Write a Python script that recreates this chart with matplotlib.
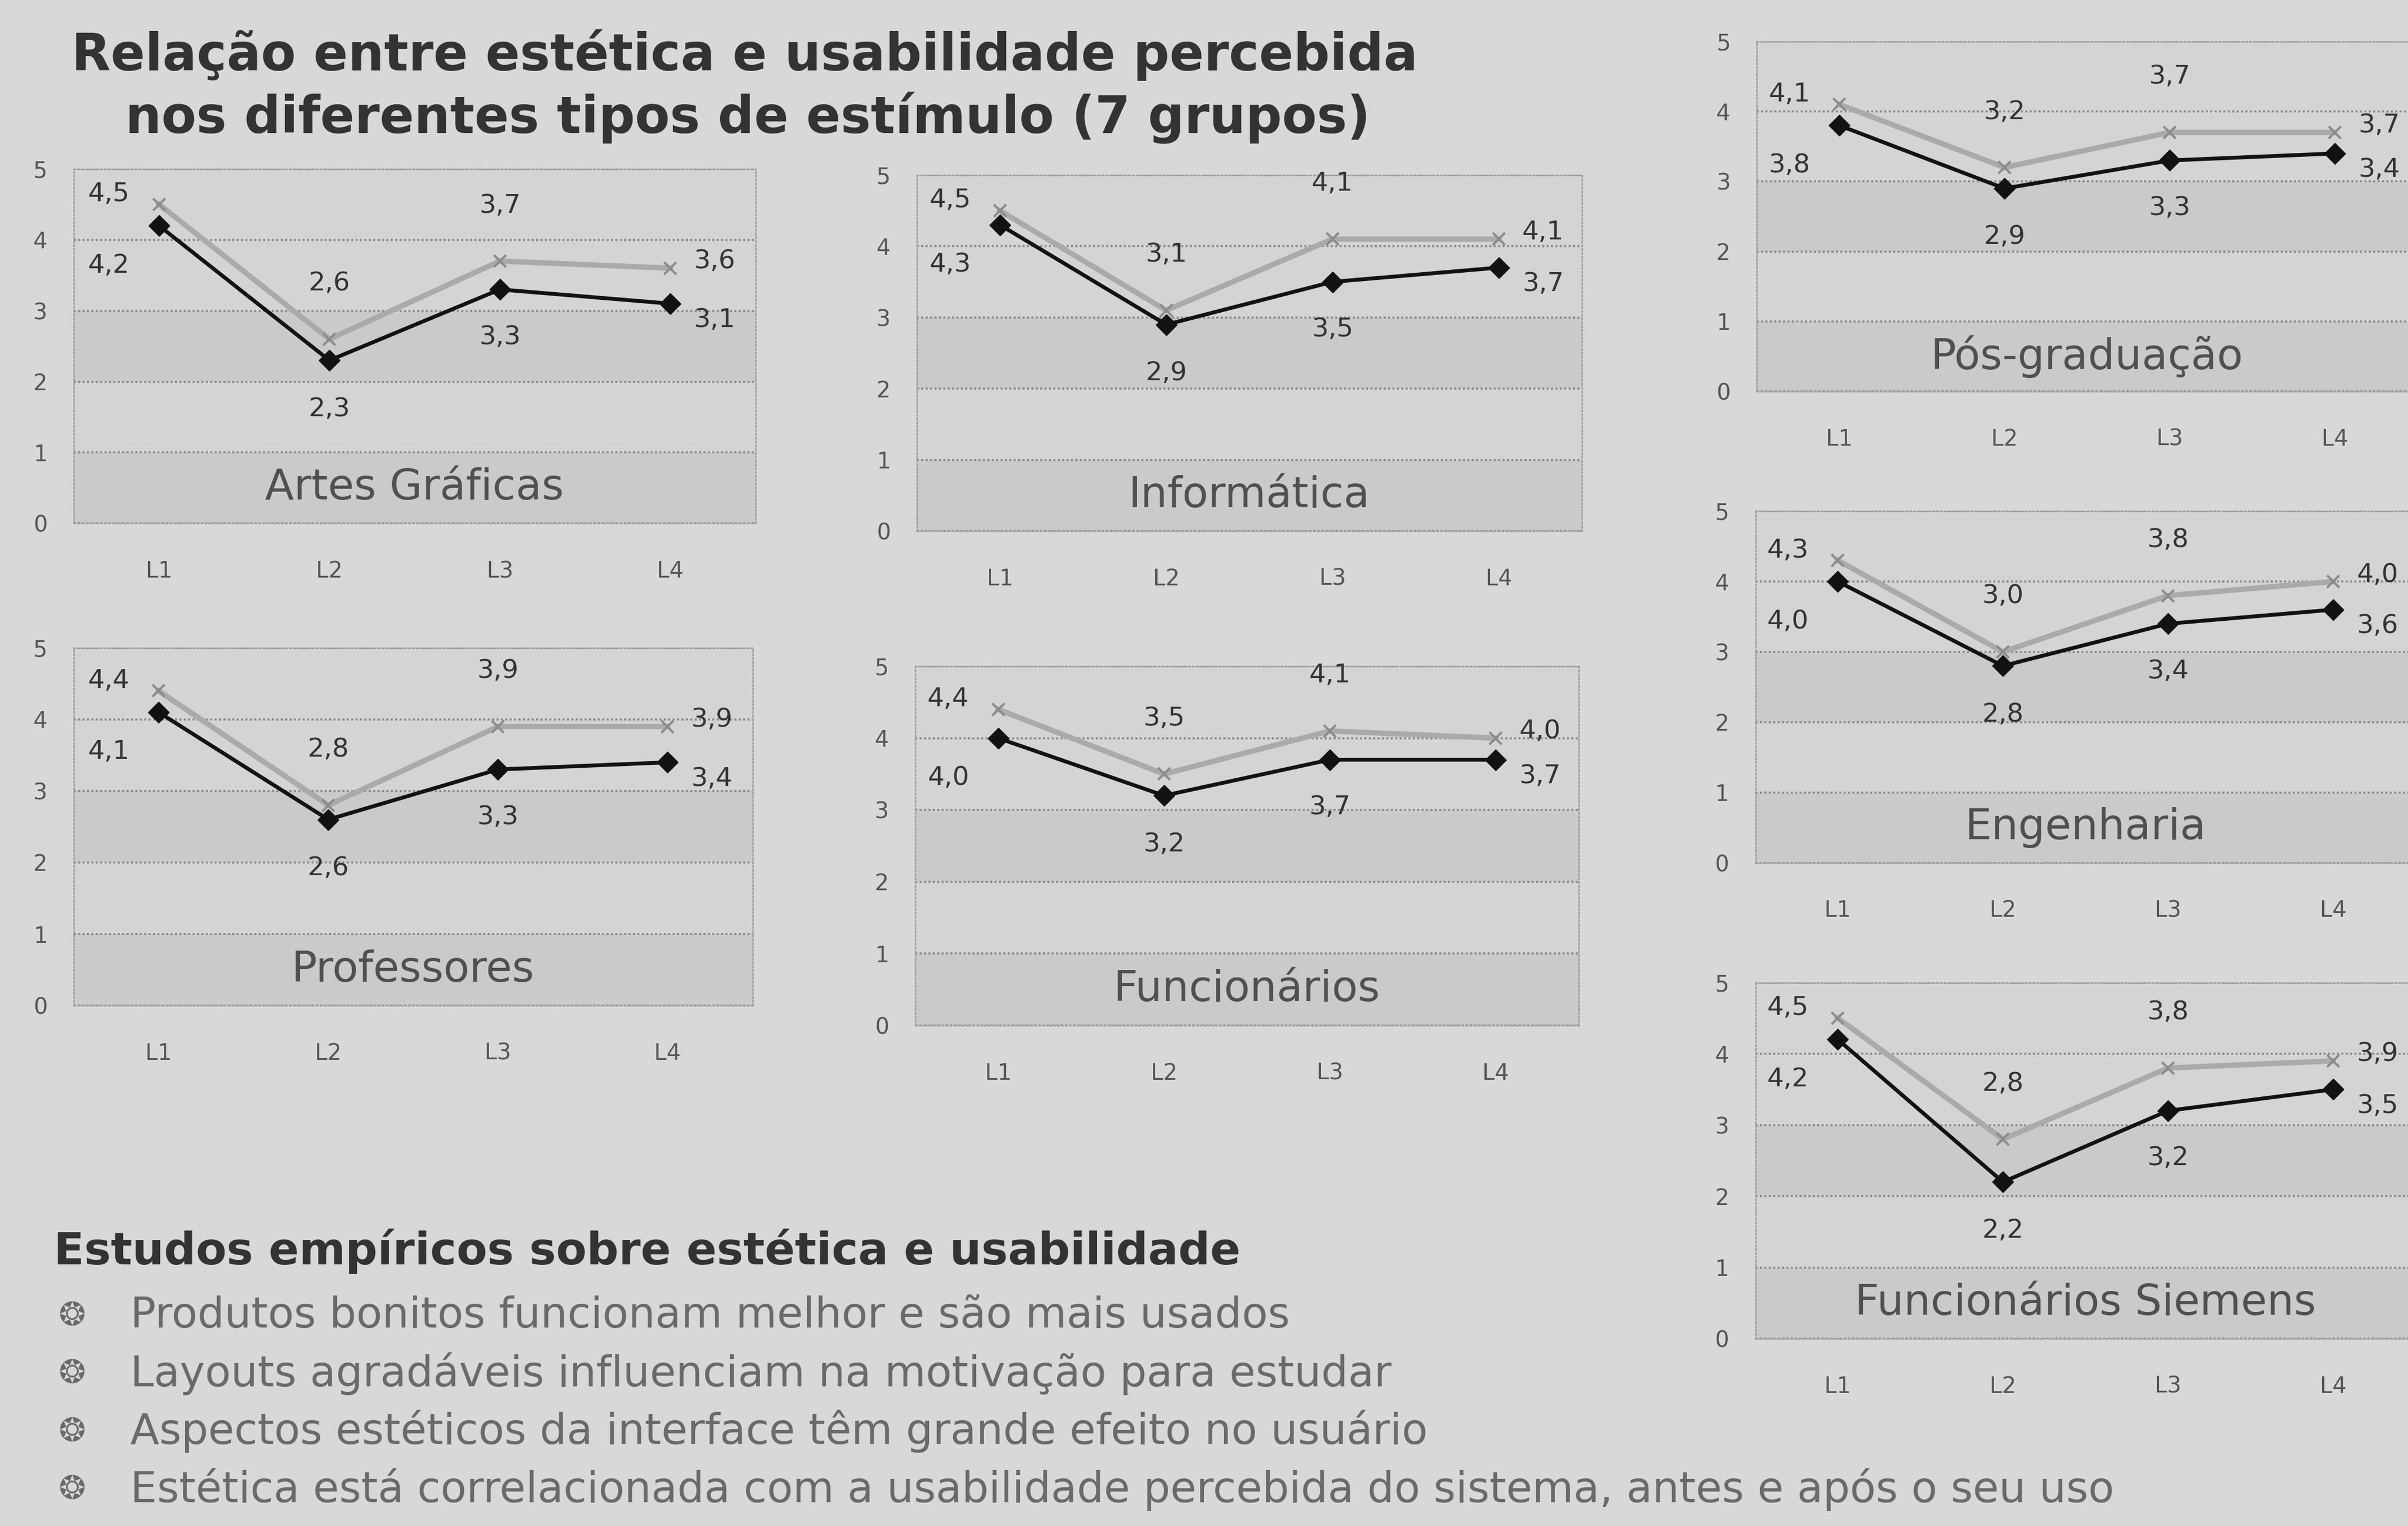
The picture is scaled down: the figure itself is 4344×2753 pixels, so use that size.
import matplotlib
matplotlib.use("Agg")
import matplotlib.pyplot as plt

# ---- data -------------------------------------------------------------
categorias = ["L1", "L2", "L3", "L4"]
grupos = ["Artes Gráficas", "Informática", "Pós-graduação", "Professores",
          "Funcionários", "Engenharia", "Funcionários Siemens"]

# estética percebida (linha cinza) por grupo
estetica_artes = [4.5, 2.6, 3.7, 3.6]
estetica_informatica = [4.5, 3.1, 4.1, 4.1]
estetica_posgrad = [4.1, 3.2, 3.7, 3.7]
estetica_professores = [4.4, 2.8, 3.9, 3.9]
estetica_funcionarios = [4.4, 3.5, 4.1, 4.0]
estetica_engenharia = [4.3, 3.0, 3.8, 4.0]
estetica_siemens = [4.5, 2.8, 3.8, 3.9]

# usabilidade percebida (linha preta) por grupo
usabilidade_artes = [4.2, 2.3, 3.3, 3.1]
usabilidade_informatica = [4.3, 2.9, 3.5, 3.7]
usabilidade_posgrad = [3.8, 2.9, 3.3, 3.4]
usabilidade_professores = [4.1, 2.6, 3.3, 3.4]
usabilidade_funcionarios = [4.0, 3.2, 3.7, 3.7]
usabilidade_engenharia = [4.0, 2.8, 3.4, 3.6]
usabilidade_siemens = [4.2, 2.2, 3.2, 3.5]

yticks = [0, 1, 2, 3, 4, 5]

titulo = ["Relação entre estética e usabilidade percebida",
          "nos diferentes tipos de estímulo (7 grupos)"]
subtitulo = "Estudos empíricos sobre estética e usabilidade"
topicos = [
    "Produtos bonitos funcionam melhor e são mais usados",
    "Layouts agradáveis influenciam na motivação para estudar",
    "Aspectos estéticos da interface têm grande efeito no usuário",
    "Estética está correlacionada com a usabilidade percebida do sistema, antes e após o seu uso",
]

# ---- layout -----------------------------------------------------------
W, H = 1568.0, 994.0          # layout grid units
BG = "#d8d8d8"

fig = plt.figure(figsize=(43.44, 27.53), dpi=100, facecolor=BG)


def box(x0, x1, ytop, ybot):
    return [x0 / W, 1 - ybot / H, (x1 - x0) / W, (ybot - ytop) / H]


paineis = [
    (grupos[0], estetica_artes, usabilidade_artes, box(48, 492, 110, 341)),
    (grupos[1], estetica_informatica, usabilidade_informatica, box(597, 1030, 114, 346)),
    (grupos[2], estetica_posgrad, usabilidade_posgrad, box(1144, 1574, 27, 255)),
    (grupos[3], estetica_professores, usabilidade_professores, box(48, 490, 422, 655)),
    (grupos[4], estetica_funcionarios, usabilidade_funcionarios, box(596, 1028, 434, 668)),
    (grupos[5], estetica_engenharia, usabilidade_engenharia, box(1143, 1573, 333, 562)),
    (grupos[6], estetica_siemens, usabilidade_siemens, box(1143, 1573, 640, 872)),
]


def fmt(v):
    return f"{v:.1f}".replace(".", ",")


# label offsets in pixels: (dx, dy) per category, for the gray and black series
off_gray = [(-90, 18), (0, 100), (0, 100), (80, 12)]
off_black = [(-90, -72), (0, -88), (0, -86), (80, -30)]

x = list(range(len(categorias)))

for nome, est, usa, pos in paineis:
    ax = fig.add_axes(pos)
    ax.set_xlim(-0.5, 3.5)
    ax.set_ylim(0, 5)
    ax.set_facecolor("#d4d4d4")
    for lo in (0, 2):
        ax.axhspan(lo, lo + 1, color="#cacaca", zorder=0, lw=0)
    for s in ax.spines.values():
        s.set_color("#a0a0a0")
        s.set_linestyle((0, (1, 1.5)))
        s.set_linewidth(2)
    ax.set_yticks(yticks)
    ax.set_yticklabels([str(t) for t in yticks])
    ax.grid(axis="y", color="#888888", linestyle=(0, (1, 1.2)), linewidth=2.6)
    ax.set_axisbelow(True)
    ax.set_xticks(x)
    ax.set_xticklabels(categorias)
    ax.tick_params(axis="both", length=0, labelsize=29, colors="#555555")
    ax.tick_params(axis="y", pad=34)
    ax.tick_params(axis="x", pad=48)

    ax.plot(x, est, color="#aaaaaa", lw=7, marker="x", markersize=16,
            markeredgewidth=3, markeredgecolor="#8c8c8c", zorder=3,
            solid_joinstyle="miter")
    ax.plot(x, usa, color="#121212", lw=5, marker="D", markersize=19,
            markeredgecolor="#121212", zorder=4)

    for i, (g, b) in enumerate(zip(est, usa)):
        ax.annotate(fmt(g), (x[i], g), xytext=off_gray[i], textcoords="offset pixels",
                    ha="center", va="center", fontsize=34, color="#333333",
                    annotation_clip=False)
        ax.annotate(fmt(b), (x[i], b), xytext=off_black[i], textcoords="offset pixels",
                    ha="center", va="center", fontsize=34, color="#333333",
                    annotation_clip=False)

    ax.text(1.5, 0.5, nome, ha="center", va="center", fontsize=55, color="#505050",
            zorder=5)

# ---- texts ------------------------------------------------------------
fig.text(485 / W, 1 - 36 / H, titulo[0], ha="center", va="center",
         fontsize=66, fontweight="bold", color="#333333")
fig.text(487 / W, 1 - 77 / H, titulo[1], ha="center", va="center",
         fontsize=66, fontweight="bold", color="#333333")

fig.text(35 / W, 1 - 815 / H, subtitulo, ha="left", va="center",
         fontsize=58, fontweight="bold", color="#333333")

for k, t in enumerate(topicos):
    yy = 1 - (857 + k * 37.7) / H
    fig.text(47 / W, yy, "❂", ha="center", va="center", fontsize=42, color="#6a6a6a")
    fig.text(85 / W, yy, t, ha="left", va="center", fontsize=55, color="#6a6a6a")

fig.savefig("out.png", dpi=100, facecolor=BG)
